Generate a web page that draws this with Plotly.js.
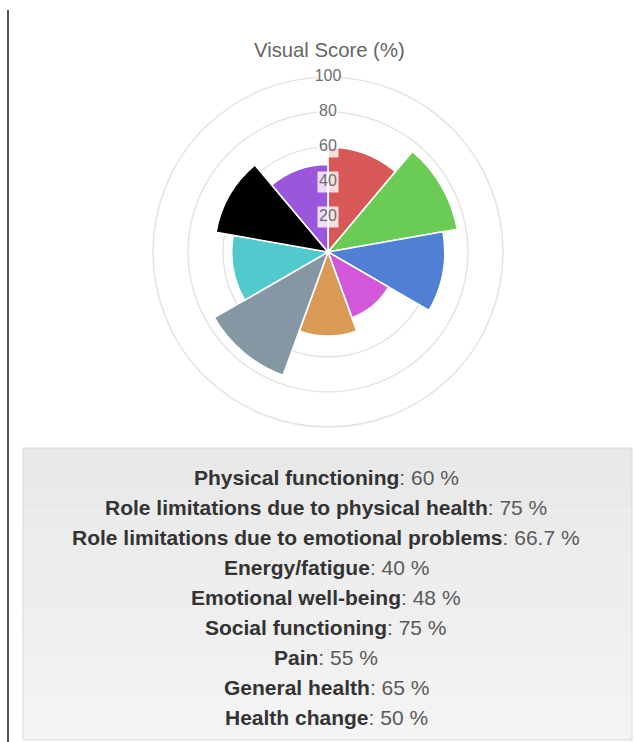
<!DOCTYPE html>
<html>
<head>
<meta charset="utf-8">
<script src="https://cdn.plot.ly/plotly-3.0.1.min.js"></script>
<style>html,body{margin:0;padding:0;background:#fff;}#chart{width:635px;height:742px;}</style>
</head>
<body>
<div id="chart"></div>
<script>
// Data
const categories = [
  "Physical functioning",
  "Role limitations due to physical health",
  "Role limitations due to emotional problems",
  "Energy/fatigue",
  "Emotional well-being",
  "Social functioning",
  "Pain",
  "General health",
  "Health change"
];
const scores = [60, 75, 66.7, 40, 48, 75, 55, 65, 50];
const colors = ["#d85858", "#6acb55", "#4f80d4", "#d257d9", "#d99a55", "#8497a3", "#52c9cc", "#000000", "#9b57dc"];
const tickVals = [20, 40, 60, 80, 100];
const tickText = ["20", "40", "60", "80", "100"];
const chartTitle = "Visual Score (%)";

(function () {
const W = 635, H = 742;
const sector = 360 / categories.length;
const thetas = categories.map((c, i) => sector * i + sector / 2);
const FONT = "'Liberation Sans', Arial, Helvetica, sans-serif";

const bars = {
  type: "barpolar",
  r: scores,
  theta: thetas,
  width: categories.map(() => sector),
  marker: { color: colors, line: { color: "#ffffff", width: 1.6 } },
  hoverinfo: "skip"
};

const tickLabels = {
  type: "scatterpolar",
  mode: "markers+text",
  r: tickVals,
  theta: tickVals.map(() => 0),
  text: tickText,
  textposition: "middle center",
  textfont: { family: FONT, size: 16, color: "#6e6e6e" },
  marker: { symbol: "square", size: 21, color: "rgba(255,255,255,0.8)", line: { width: 0 } },
  cliponaxis: false,
  hoverinfo: "skip"
};

const px = (x) => x / W;
const py = (y) => 1 - y / H;

const annotations = [{
  text: chartTitle,
  xref: "paper", yref: "paper", x: px(329), y: py(50),
  xanchor: "center", yanchor: "middle", showarrow: false,
  font: { family: FONT, size: 20.3, color: "#666666" }
}];
categories.forEach((c, i) => {
  annotations.push({
    text: "<b>" + c + "</b><span style='color:#5a5a5a'>: " + scores[i] + " %</span>",
    xref: "paper", yref: "paper", x: px(326), y: py(477 + 30 * i),
    xanchor: "center", yanchor: "middle", showarrow: false,
    font: { family: FONT, size: 21, color: "#333333" }
  });
});

const shapes = [];
const boxTop = 448, boxBottom = 740, bands = 14;
for (let b = 0; b < bands; b++) {
  const t = b / (bands - 1);
  const g = Math.round(232 + t * 12);
  shapes.push({
    type: "rect", xref: "paper", yref: "paper", layer: "below",
    x0: px(23), x1: px(632),
    y0: py(boxTop + (boxBottom - boxTop) * (b + 1) / bands), y1: py(boxTop + (boxBottom - boxTop) * b / bands),
    fillcolor: "rgb(" + g + "," + g + "," + g + ")", line: { width: 0 }
  });
}
shapes.push({
  type: "rect", xref: "paper", yref: "paper", layer: "below",
  x0: px(23), x1: px(632), y0: py(boxBottom), y1: py(boxTop),
  fillcolor: "rgba(0,0,0,0)", line: { color: "#dadada", width: 1 }
});
shapes.push({
  type: "line", xref: "paper", yref: "paper",
  x0: px(8), x1: px(8), y0: py(10), y1: 0,
  line: { color: "#555555", width: 2 }
});

const layout = {
  width: W, height: H,
  margin: { l: 0, r: 0, t: 0, b: 0 },
  paper_bgcolor: "#ffffff",
  showlegend: false,
  polar: {
    domain: { x: [px(153), px(503)], y: [py(427), py(77)] },
    bgcolor: "#ffffff",
    radialaxis: {
      range: [0, 100], tickvals: tickVals, showticklabels: false, ticks: "",
      showline: false, gridcolor: "#e4e4e4", gridwidth: 1.5, layer: "below traces"
    },
    angularaxis: {
      rotation: 90, direction: "clockwise", showticklabels: false, ticks: "",
      showgrid: false, showline: true, linecolor: "#e4e4e4", linewidth: 1.5, layer: "below traces"
    }
  },
  annotations: annotations,
  shapes: shapes
};

Plotly.newPlot("chart", [bars, tickLabels], layout, { displayModeBar: false, staticPlot: true });
})();
</script>
</body>
</html>
